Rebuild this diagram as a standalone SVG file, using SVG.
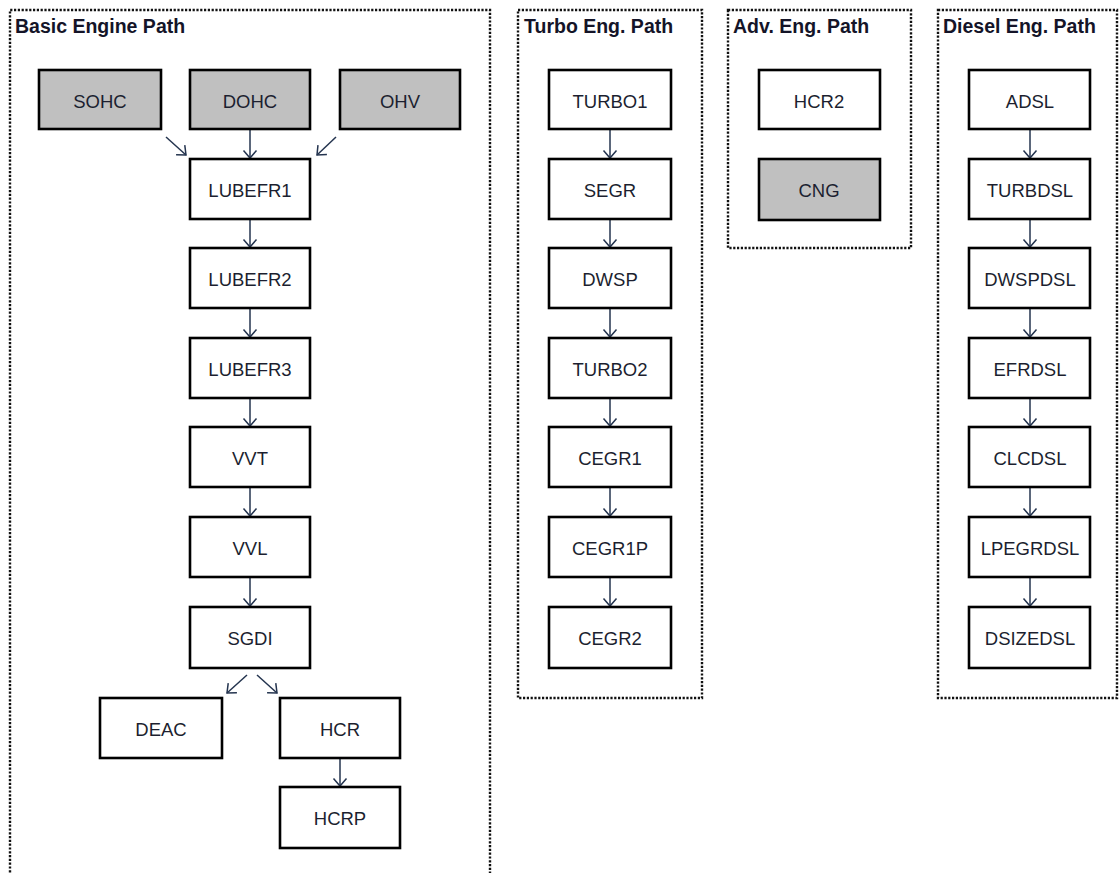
<svg xmlns="http://www.w3.org/2000/svg" width="1119" height="873" viewBox="0 0 1119 873">
<style>
.bg{fill:#ffffff}
.cont{fill:none;stroke:#111;stroke-width:2.4;stroke-dasharray:2.2 1.6}
.title{font-family:"Liberation Sans",Arial,sans-serif;font-weight:bold;font-size:19.5px;fill:#141428}
.box{fill:#ffffff;stroke:#000;stroke-width:2.6}
.gray{fill:#c0c0c0}
.lbl{font-family:"Liberation Sans",Arial,sans-serif;font-size:18.5px;fill:#1c1f30;text-anchor:middle}
.arr{stroke:#24344f;stroke-width:1.5;fill:none;marker-end:url(#ah)}
</style>
<defs>
<marker id="ah" markerUnits="userSpaceOnUse" markerWidth="16" markerHeight="16" viewBox="-9 -8 10 16" refX="0" refY="0" orient="auto">
<path d="M -7.5 -6.5 L 0 0 L -7.5 6.5" fill="none" stroke="#24344f" stroke-width="1.5"/>
</marker>
</defs>
<rect class="bg" x="0" y="0" width="1119" height="873"/>

<g id="container-basic">
<path class="cont" d="M10 880 L10 10 L490 10 L490 880"/>
<text class="title" x="15" y="33">Basic Engine Path</text>
</g>
<g id="container-turbo">
<rect class="cont" x="518" y="10" width="184" height="688"/>
<text class="title" x="524" y="33">Turbo Eng. Path</text>
</g>
<g id="container-adv">
<rect class="cont" x="728" y="10" width="183" height="238"/>
<text class="title" x="733" y="33">Adv. Eng. Path</text>
</g>
<g id="container-diesel">
<rect class="cont" x="938" y="10" width="179" height="688"/>
<text class="title" x="943" y="33">Diesel Eng. Path</text>
</g>

<g id="connectors">
<line class="arr" x1="166" y1="137" x2="186" y2="155"/>
<line class="arr" x1="250" y1="130" x2="250" y2="158"/>
<line class="arr" x1="336" y1="137" x2="317" y2="155"/>
<line class="arr" x1="250" y1="219" x2="250" y2="247"/>
<line class="arr" x1="250" y1="308" x2="250" y2="337"/>
<line class="arr" x1="250" y1="398" x2="250" y2="426"/>
<line class="arr" x1="250" y1="487" x2="250" y2="516"/>
<line class="arr" x1="250" y1="577" x2="250" y2="606"/>
<line class="arr" x1="247" y1="675" x2="227" y2="693"/>
<line class="arr" x1="257" y1="675" x2="277" y2="693"/>
<line class="arr" x1="340" y1="757" x2="340" y2="786"/>

<line class="arr" x1="610" y1="130" x2="610" y2="158"/>
<line class="arr" x1="610" y1="219" x2="610" y2="247"/>
<line class="arr" x1="610" y1="308" x2="610" y2="337"/>
<line class="arr" x1="610" y1="398" x2="610" y2="426"/>
<line class="arr" x1="610" y1="487" x2="610" y2="516"/>
<line class="arr" x1="610" y1="577" x2="610" y2="606"/>

<line class="arr" x1="1030" y1="130" x2="1030" y2="158"/>
<line class="arr" x1="1030" y1="219" x2="1030" y2="247"/>
<line class="arr" x1="1030" y1="308" x2="1030" y2="337"/>
<line class="arr" x1="1030" y1="398" x2="1030" y2="426"/>
<line class="arr" x1="1030" y1="487" x2="1030" y2="516"/>
<line class="arr" x1="1030" y1="577" x2="1030" y2="606"/>
</g>

<g id="SOHC"><rect class="box gray" x="39" y="70" width="122" height="59"/><text class="lbl" x="100" y="108">SOHC</text></g>
<g id="DOHC"><rect class="box gray" x="190" y="70" width="120" height="59"/><text class="lbl" x="250" y="108">DOHC</text></g>
<g id="OHV"><rect class="box gray" x="340" y="70" width="120" height="59"/><text class="lbl" x="400" y="108">OHV</text></g>
<g id="LUBEFR1"><rect class="box" x="190" y="159" width="120" height="60"/><text class="lbl" x="250" y="197">LUBEFR1</text></g>
<g id="LUBEFR2"><rect class="box" x="190" y="248" width="120" height="60"/><text class="lbl" x="250" y="286">LUBEFR2</text></g>
<g id="LUBEFR3"><rect class="box" x="190" y="338" width="120" height="60"/><text class="lbl" x="250" y="376">LUBEFR3</text></g>
<g id="VVT"><rect class="box" x="190" y="427" width="120" height="60"/><text class="lbl" x="250" y="465">VVT</text></g>
<g id="VVL"><rect class="box" x="190" y="517" width="120" height="60"/><text class="lbl" x="250" y="555">VVL</text></g>
<g id="SGDI"><rect class="box" x="190" y="607" width="120" height="61"/><text class="lbl" x="250" y="645">SGDI</text></g>
<g id="DEAC"><rect class="box" x="100" y="698" width="122" height="60"/><text class="lbl" x="161" y="736">DEAC</text></g>
<g id="HCR"><rect class="box" x="280" y="698" width="120" height="60"/><text class="lbl" x="340" y="736">HCR</text></g>
<g id="HCRP"><rect class="box" x="280" y="787" width="120" height="61"/><text class="lbl" x="340" y="825">HCRP</text></g>

<g id="TURBO1"><rect class="box" x="549" y="70" width="122" height="59"/><text class="lbl" x="610" y="108">TURBO1</text></g>
<g id="SEGR"><rect class="box" x="549" y="159" width="122" height="60"/><text class="lbl" x="610" y="197">SEGR</text></g>
<g id="DWSP"><rect class="box" x="549" y="248" width="122" height="60"/><text class="lbl" x="610" y="286">DWSP</text></g>
<g id="TURBO2"><rect class="box" x="549" y="338" width="122" height="60"/><text class="lbl" x="610" y="376">TURBO2</text></g>
<g id="CEGR1"><rect class="box" x="549" y="427" width="122" height="60"/><text class="lbl" x="610" y="465">CEGR1</text></g>
<g id="CEGR1P"><rect class="box" x="549" y="517" width="122" height="60"/><text class="lbl" x="610" y="555">CEGR1P</text></g>
<g id="CEGR2"><rect class="box" x="549" y="607" width="122" height="61"/><text class="lbl" x="610" y="645">CEGR2</text></g>

<g id="HCR2"><rect class="box" x="759" y="70" width="121" height="59"/><text class="lbl" x="819" y="108">HCR2</text></g>
<g id="CNG"><rect class="box gray" x="759" y="159" width="121" height="61"/><text class="lbl" x="819" y="197">CNG</text></g>

<g id="ADSL"><rect class="box" x="969" y="70" width="121" height="59"/><text class="lbl" x="1030" y="108">ADSL</text></g>
<g id="TURBDSL"><rect class="box" x="969" y="159" width="121" height="60"/><text class="lbl" x="1030" y="197">TURBDSL</text></g>
<g id="DWSPDSL"><rect class="box" x="969" y="248" width="121" height="60"/><text class="lbl" x="1030" y="286">DWSPDSL</text></g>
<g id="EFRDSL"><rect class="box" x="969" y="338" width="121" height="60"/><text class="lbl" x="1030" y="376">EFRDSL</text></g>
<g id="CLCDSL"><rect class="box" x="969" y="427" width="121" height="60"/><text class="lbl" x="1030" y="465">CLCDSL</text></g>
<g id="LPEGRDSL"><rect class="box" x="969" y="517" width="121" height="60"/><text class="lbl" x="1030" y="555">LPEGRDSL</text></g>
<g id="DSIZEDSL"><rect class="box" x="969" y="607" width="121" height="61"/><text class="lbl" x="1030" y="645">DSIZEDSL</text></g>
</svg>
